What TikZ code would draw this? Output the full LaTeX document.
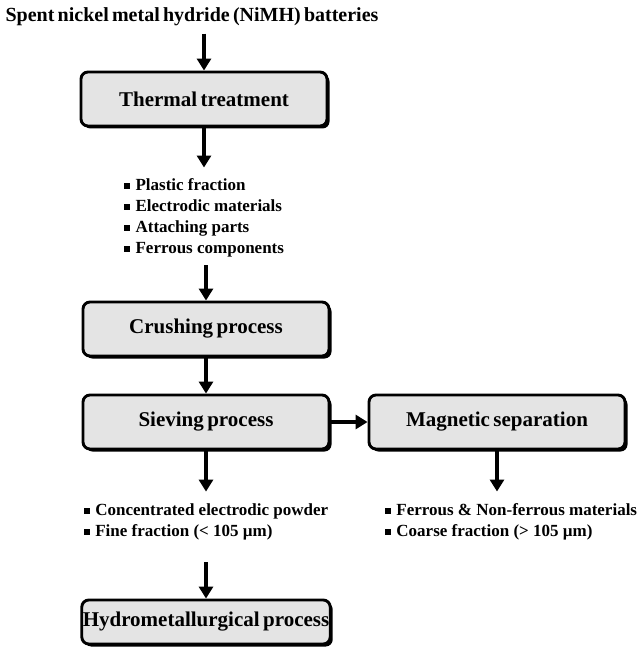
\documentclass[tikz,border=0pt]{standalone}
\usepackage{fontspec}
\setmainfont{Liberation Serif}
\newfontfamily\tightfont{Liberation Serif}[WordSpace=0.65]
\usetikzlibrary{arrows.meta,shadows}
\definecolor{boxgray}{HTML}{E4E4E4}
\newcommand{\sqb}{\rule[0.08em]{0.38em}{0.38em}\hspace{0.3em}}
\begin{document}
\begin{tikzpicture}[
  stage/.style={rectangle, rounded corners=7pt, draw, line width=2.9pt, fill=boxgray,
    drop shadow={shadow xshift=2.5pt, shadow yshift=-2.5pt, fill=black, opacity=1},
    minimum width=246pt, minimum height=54pt, inner xsep=1pt,
    font=\tightfont\bfseries\fontsize{21}{24}\selectfont, align=center},
  items/.style={align=left, inner sep=2pt, font=\bfseries\fontsize{17}{21}\selectfont},
  arr/.style={-{Triangle[width=14pt,length=12pt]}, line width=3.4pt},
  node distance=100pt
]
\useasboundingbox (0,0) rectangle (639pt,-650pt);

\node[font=\tightfont\bfseries\fontsize{20}{24}\selectfont] (spent) at (192pt,-17pt)
  {Spent nickel metal hydride (NiMH) batteries};
\node[stage, below of=spent, node distance=82pt, xshift=12pt] (thermal) {Thermal treatment};
\node[items, below of=thermal, node distance=119pt] (parts)
  {\sqb Plastic fraction\\ \sqb Electrodic materials\\ \sqb Attaching parts\\ \sqb Ferrous components};
\node[stage, below of=parts, node distance=111pt, xshift=2pt] (crush) {Crushing process};
\node[stage, below of=crush, node distance=93pt] (sieve) {Sieving process};
\node[stage, right of=sieve, node distance=291pt, minimum width=256pt] (magnet) {Magnetic separation};
\node[items, below of=sieve, node distance=100pt] (fine)
  {\sqb Concentrated electrodic powder\\ \sqb Fine fraction (< 105 µm)};
\node[items, below of=magnet, node distance=100pt, xshift=14pt] (coarse)
  {\sqb Ferrous \& Non-ferrous materials\\ \sqb Coarse fraction (> 105 µm)};
\node[stage, below of=fine, node distance=100pt, minimum height=44pt] (hydro) {Hydrometallurgical process};

% Arrows
\draw[arr, shorten <=4pt] (spent.south -| thermal.north) -- (thermal.north);
\draw[arr, shorten >=9pt] (thermal.south) -- (thermal.south |- parts.north);
\draw[arr, shorten <=6pt] (parts.south -| crush.north) -- (crush.north);
\draw[arr] (crush) -- (sieve);
\draw[arr] (sieve) -- (magnet);
\draw[arr, shorten >=10pt] (sieve.south) -- (sieve.south |- fine.north);
\draw[arr, shorten >=10pt] (magnet.south) -- (magnet.south |- coarse.north);
\draw[arr, shorten <=20pt] (fine.south -| hydro.north) -- (hydro.north);
\end{tikzpicture}
\end{document}
